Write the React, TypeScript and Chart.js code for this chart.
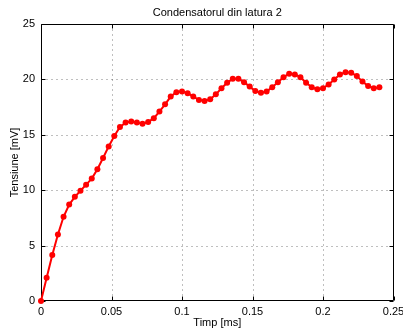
import React, { useEffect, useRef } from "react";
import { Chart, registerables } from "chart.js";

Chart.register(...registerables);

const titleText = "Condensatorul din latura 2";
const xAxisLabel = "Timp [ms]";
const yAxisLabel = "Tensiune [mV]";

const timeMs = [
  0, 0.004, 0.008, 0.012, 0.016, 0.02, 0.024, 0.028, 0.032, 0.036,
  0.04, 0.044, 0.048, 0.052, 0.056, 0.06, 0.064, 0.068, 0.072, 0.076,
  0.08, 0.084, 0.088, 0.092, 0.096, 0.1, 0.104, 0.108, 0.112, 0.116,
  0.12, 0.124, 0.128, 0.132, 0.136, 0.14, 0.144, 0.148, 0.152, 0.156,
  0.16, 0.164, 0.168, 0.172, 0.176, 0.18, 0.184, 0.188, 0.192, 0.196,
  0.2, 0.204, 0.208, 0.212, 0.216, 0.22, 0.224, 0.228, 0.232, 0.236,
  0.24,
];

const voltageMv = [
  0, 2.1, 4.15, 6.0, 7.6, 8.7, 9.4, 9.95, 10.5, 11.05,
  11.9, 12.9, 13.95, 14.9, 15.7, 16.1, 16.2, 16.1, 16.0, 16.15,
  16.5, 17.1, 17.75, 18.45, 18.85, 18.9, 18.75, 18.45, 18.15, 18.05,
  18.2, 18.65, 19.2, 19.7, 20.05, 20.05, 19.75, 19.35, 18.95, 18.8,
  18.9, 19.3, 19.75, 20.2, 20.5, 20.45, 20.2, 19.7, 19.3, 19.1,
  19.2, 19.55, 20.0, 20.45, 20.65, 20.6, 20.3, 19.8, 19.4, 19.2,
  19.3,
];

const xTicks = [0, 0.05, 0.1, 0.15, 0.2, 0.25];
const yTicks = [0, 5, 10, 15, 20, 25];

const FONT = "'Liberation Sans', Arial, Helvetica, sans-serif";

const matlabAxesPlugin = {
  id: "matlabAxes",
  beforeDatasetsDraw(chart: any) {
    const { ctx, chartArea, scales } = chart;
    const xs = scales.x;
    const ys = scales.y;
    const L = Math.round(chartArea.left) + 0.5;
    const R = Math.round(chartArea.right) - 0.5;
    const T = Math.round(chartArea.top) + 0.5;
    const B = Math.round(chartArea.bottom) - 0.5;
    const tl = 4;

    ctx.save();
    ctx.strokeStyle = "rgba(0,0,0,0.5)";
    ctx.lineWidth = 1;
    ctx.setLineDash([1, 4]);
    ctx.beginPath();
    xTicks.forEach((v) => {
      if (v <= xTicks[0] || v >= xTicks[xTicks.length - 1]) return;
      const px = Math.round(xs.getPixelForValue(v)) + 0.5;
      ctx.moveTo(px, B);
      ctx.lineTo(px, T);
    });
    yTicks.forEach((v) => {
      if (v <= yTicks[0] || v >= yTicks[yTicks.length - 1]) return;
      const py = Math.round(ys.getPixelForValue(v)) + 0.5;
      ctx.moveTo(L, py);
      ctx.lineTo(R, py);
    });
    ctx.stroke();
    ctx.restore();

    ctx.save();
    ctx.setLineDash([]);
    ctx.strokeStyle = "#000000";
    ctx.lineWidth = 1;
    ctx.beginPath();
    ctx.moveTo(L, T);
    ctx.lineTo(R, T);
    ctx.lineTo(R, B);
    ctx.lineTo(L, B);
    ctx.closePath();
    xTicks.forEach((v) => {
      const px = Math.round(xs.getPixelForValue(v)) + 0.5;
      ctx.moveTo(px, B);
      ctx.lineTo(px, B - tl);
      ctx.moveTo(px, T);
      ctx.lineTo(px, T + tl);
    });
    yTicks.forEach((v) => {
      const py = Math.round(ys.getPixelForValue(v)) + 0.5;
      ctx.moveTo(L, py);
      ctx.lineTo(L + tl, py);
      ctx.moveTo(R, py);
      ctx.lineTo(R - tl, py);
    });
    ctx.stroke();
    ctx.restore();
  },
};

export default function App() {
  const canvasRef = useRef<HTMLCanvasElement | null>(null);

  useEffect(() => {
    const canvas = canvasRef.current;
    if (!canvas) return;
    const chart = new Chart(canvas, {
      type: "line",
      data: {
        datasets: [
          {
            data: timeMs.map((t, i) => ({ x: t, y: voltageMv[i] })),
            borderColor: "#ff0000",
            backgroundColor: "#ff0000",
            borderWidth: 2,
            pointRadius: 3,
            pointBorderWidth: 0,
            pointBackgroundColor: "#ff0000",
            tension: 0,
            clip: false as any,
          },
        ],
      },
      options: {
        animation: false,
        responsive: false,
        devicePixelRatio: 1,
        layout: { padding: { left: 0, right: 9.5, top: 0, bottom: 0 } },
        plugins: {
          legend: { display: false },
          tooltip: { enabled: false },
          title: {
            display: true,
            fullSize: false,
            text: titleText,
            color: "#000",
            font: { family: FONT, size: 11, weight: "normal" as any },
            padding: { top: 6.4, bottom: 4.4 },
          },
        },
        scales: {
          x: {
            type: "linear",
            min: 0,
            max: 0.25,
            grid: { display: false, drawTicks: false },
            border: { display: false },
            afterBuildTicks: (s: any) => {
              s.ticks = xTicks.map((v) => ({ value: v }));
            },
            afterFit: (s: any) => {
              s.height = 30;
              s.paddingLeft = 0;
              s.paddingRight = 0;
            },
            ticks: {
              color: "#000",
              font: { family: FONT, size: 11 },
              padding: 4,
              maxRotation: 0,
              autoSkip: false,
              callback: (v: any) => String(Math.round(Number(v) * 100) / 100),
            },
            title: {
              display: true,
              text: xAxisLabel,
              color: "#000",
              font: { family: FONT, size: 11 },
              padding: { top: 0, bottom: 1.4 },
            },
          },
          y: {
            type: "linear",
            min: 0,
            max: 25,
            grid: { display: false, drawTicks: false },
            border: { display: false },
            afterBuildTicks: (s: any) => {
              s.ticks = yTicks.map((v) => ({ value: v }));
            },
            afterFit: (s: any) => {
              s.width = 41;
              s.paddingTop = 0;
              s.paddingBottom = 0;
            },
            ticks: {
              color: "#000",
              font: { family: FONT, size: 11 },
              padding: 6,
              autoSkip: false,
              callback: (v: any) => String(v),
            },
            title: {
              display: true,
              text: yAxisLabel,
              color: "#000",
              font: { family: FONT, size: 11 },
              padding: { top: 8.4, bottom: 0 },
            },
          },
        },
      },
      plugins: [matlabAxesPlugin],
    });
    return () => chart.destroy();
  }, []);

  return (
    <div
      style={{
        position: "fixed",
        left: 0,
        top: 0,
        width: 403,
        height: 331,
        overflow: "hidden",
        background: "#fff",
      }}
    >
      <canvas ref={canvasRef} width={403} height={331} style={{ width: 403, height: 331, display: "block" }} />
    </div>
  );
}
